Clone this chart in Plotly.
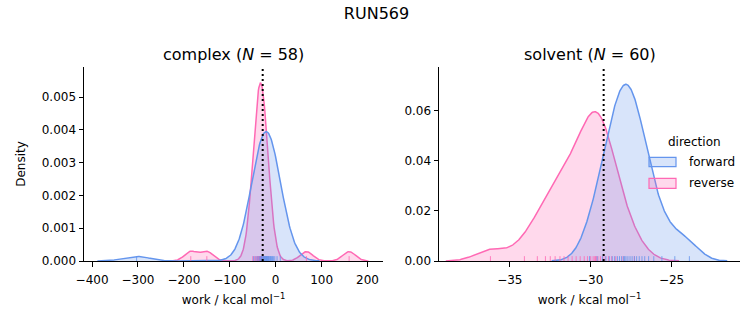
import numpy as np
import plotly.graph_objects as go

# ---------------- data ----------------
run_name = "RUN569"
complex_n = 58
solvent_n = 60

complex_forward = [-303, -48, -43, -39, -36, -34, -32, -31, -30, -28, -27, -26, -25, -24,
                   -23, -22, -21, -20, -19, -18, -17, -16, -15, -13, -12, -11, -9, -7,
                   -5, -2, 3, 10]
complex_reverse = [-185, -150, -50, -46, -43, -41, -39, -38, -37, -36, -35, -34, -33, -33,
                   -32, -31, -30, -29, -28, -27, -25, -23, -20, -16, 67, 160]
solvent_forward = [-30.07, -29.6, -29.28, -29.06, -28.85, -28.67, -28.52, -28.35, -28.22,
                   -28.09, -27.96, -27.9, -27.82, -27.7, -27.57, -27.44, -27.3, -27.16,
                   -27.0, -26.83, -26.66, -26.42, -26.1, -25.6, -24.8, -23.9]
solvent_reverse = [-36.2, -34.1, -33.3, -32.8, -32.5, -32.2, -31.9, -31.65, -31.4, -31.15,
                   -30.9, -30.65, -30.4, -30.2, -30.0, -29.85, -29.75, -29.7, -29.65,
                   -29.55, -29.4, -29.25, -29.1, -28.9, -28.7, -28.45, -28.0, -27.3]
complex_dg = -28.3
solvent_dg = -29.2

# KDE settings (bandwidth in data units, normalisation count)
complex_bw = {"forward": 28.5, "reverse": 14.0}
solvent_bw = {"forward": 0.78, "reverse": 0.92}
density_norm = 100

complex_xticks = [-400, -300, -200, -100, 0, 100, 200]
complex_yticks = [0, 0.001, 0.002, 0.003, 0.004, 0.005]
solvent_xticks = [-35, -30, -25]
solvent_yticks = [0, 0.02, 0.04, 0.06]

# ---------------- styling ----------------
FONT = "DejaVu Sans"
COL = {"forward": "#6495ED", "reverse": "#FF69B4"}
FILL = {"forward": "rgba(100,149,237,0.25)", "reverse": "rgba(255,105,180,0.25)"}
W, H = 753, 325
ML, MR, MT, MB = 84, 13, 67, 64
PW = W - ML - MR
PH = H - MT - MB
TICK_SIZE = 12


def px_x(p):
    return (p - ML) / PW


def px_y(p):
    return (H - MB - p) / PH


def kde(samples, bw, norm, gridsize=400, cut=3):
    s = np.asarray(samples, dtype=float)
    xg = np.linspace(s.min() - cut * bw, s.max() + cut * bw, gridsize)
    z = (xg[:, None] - s[None, :]) / bw
    d = np.exp(-0.5 * z ** 2).sum(axis=1) / (bw * np.sqrt(2 * np.pi) * norm)
    return xg, d


def minus(v):
    s = f"{v:g}"
    return s.replace("-", "\u2212")


fig = go.Figure()
shapes = []
panels = [
    ("x", "y", {"forward": complex_forward, "reverse": complex_reverse}, complex_bw, complex_dg),
    ("x2", "y2", {"forward": solvent_forward, "reverse": solvent_reverse}, solvent_bw, solvent_dg),
]
for xa, ya, data, bws, dg in panels:
    for key in ["reverse", "forward"]:
        xg, d = kde(data[key], bws[key], density_norm)
        fig.add_trace(go.Scatter(
            x=xg, y=d, mode="lines", xaxis=xa, yaxis=ya,
            line=dict(color=COL[key], width=1.5),
            fill="tozeroy", fillcolor=FILL[key],
            showlegend=False, hoverinfo="skip"))
    for key in ["reverse", "forward"]:
        for v in data[key]:
            shapes.append(dict(type="line", xref=xa, yref=f"{ya} domain",
                               x0=v, x1=v, y0=0, y1=0.025,
                               line=dict(color=COL[key], width=1), opacity=0.8))
    shapes.append(dict(type="line", xref=xa, yref=f"{ya} domain",
                       x0=dg, x1=dg, y0=0, y1=1,
                       line=dict(color="black", width=2, dash="2px,3px")))

# manual legend
legend_items = [("forward", 157.3, 166.7, 162.0), ("reverse", 178.3, 188.3, 183.3)]
annotations = []
for name, y0, y1, yc in legend_items:
    shapes.append(dict(type="rect", xref="paper", yref="paper",
                       x0=px_x(649), x1=px_x(676), y0=px_y(y1), y1=px_y(y0),
                       fillcolor=FILL[name], line=dict(color=COL[name], width=1.2)))
    annotations.append(dict(text=name, xref="paper", yref="paper", x=px_x(687), y=px_y(yc),
                            xanchor="left", yanchor="middle", showarrow=False,
                            font=dict(family=FONT, size=TICK_SIZE, color="black")))
annotations.append(dict(text="direction", xref="paper", yref="paper", x=px_x(694), y=px_y(142),
                        xanchor="center", yanchor="middle", showarrow=False,
                        font=dict(family=FONT, size=TICK_SIZE, color="black")))
annotations.append(dict(text=f"complex (<i>N</i> = {complex_n})", xref="x domain", yref="paper",
                        x=0.5, y=px_y(54), xanchor="center", yanchor="middle", showarrow=False,
                        font=dict(family=FONT, size=16, color="black")))
annotations.append(dict(text=f"solvent (<i>N</i> = {solvent_n})", xref="x2 domain", yref="paper",
                        x=0.5, y=px_y(54), xanchor="center", yanchor="middle", showarrow=False,
                        font=dict(family=FONT, size=16, color="black")))

axis_common = dict(showline=True, linecolor="black", linewidth=1, ticks="outside",
                   ticklen=4.5, tickwidth=1, tickcolor="black", showgrid=False,
                   zeroline=False, tickfont=dict(family=FONT, size=TICK_SIZE, color="black"))
xlabel = "work / kcal mol<sup>\u22121</sup>"

fig.update_layout(
    width=W, height=H, autosize=False,
    margin=dict(l=ML, r=MR, t=MT, b=MB, pad=0),
    paper_bgcolor="white", plot_bgcolor="white",
    font=dict(family=FONT, color="black"),
    title=dict(text=run_name, x=0.5, xref="container", y=1 - 13 / H, yref="container",
               xanchor="center", yanchor="middle", font=dict(family=FONT, size=16, color="black")),
    xaxis=dict(domain=[0, px_x(383)], anchor="y", range=[-417.6, 233.8],
               tickvals=complex_xticks, ticktext=[minus(v) for v in complex_xticks],
               ticklabelstandoff=3,
               title=dict(text=xlabel, font=dict(family=FONT, size=TICK_SIZE), standoff=9),
               **axis_common),
    yaxis=dict(domain=[0, 1], anchor="x", range=[0, 0.00592],
               tickvals=complex_yticks, ticktext=[f"{v:.3f}" for v in complex_yticks],
               title=dict(text="Density", font=dict(family=FONT, size=TICK_SIZE), standoff=13),
               **axis_common),
    xaxis2=dict(domain=[px_x(439), 1], anchor="y2", range=[-39.38, -20.77],
                tickvals=solvent_xticks, ticktext=[minus(v) for v in solvent_xticks],
                ticklabelstandoff=3,
                title=dict(text=xlabel, font=dict(family=FONT, size=TICK_SIZE), standoff=9),
                **axis_common),
    yaxis2=dict(domain=[0, 1], anchor="x2", range=[0, 0.0773],
                tickvals=solvent_yticks, ticktext=[f"{v:.2f}" for v in solvent_yticks],
                **axis_common),
    shapes=shapes,
    annotations=annotations,
    showlegend=False,
)

fig.write_html("out.html")
